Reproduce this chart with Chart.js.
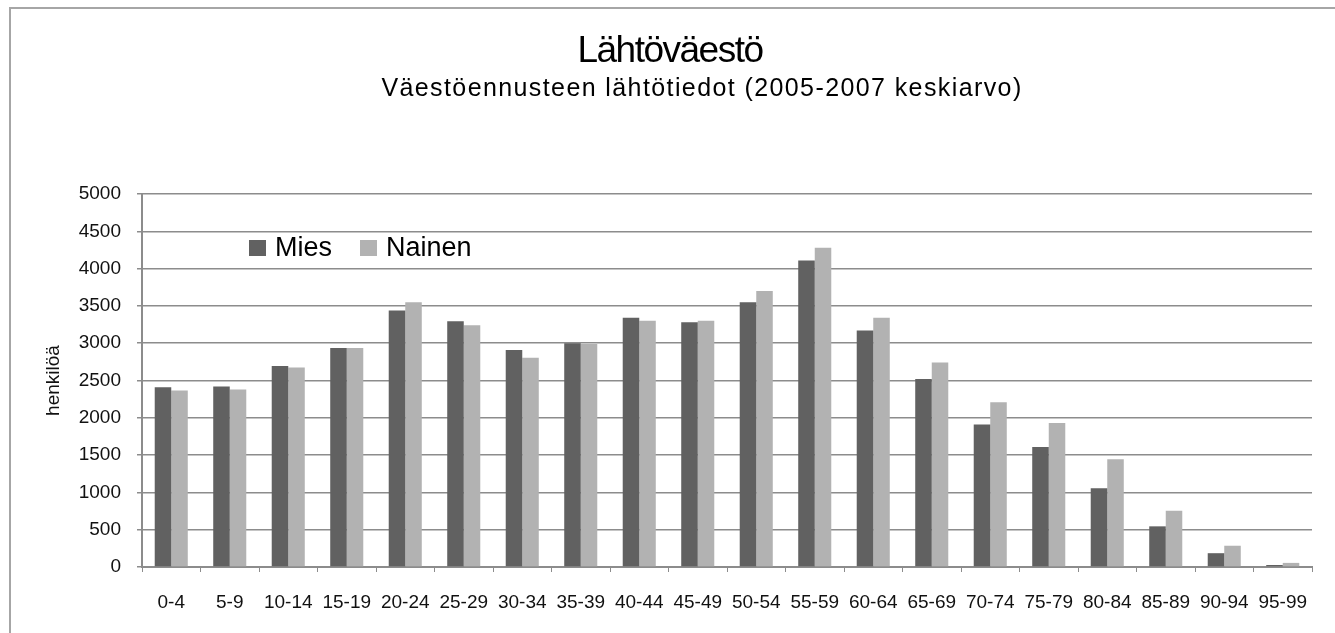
<!DOCTYPE html>
<html>
<head>
<meta charset="utf-8">
<script src="https://cdn.jsdelivr.net/npm/chart.js@4"></script>
<style>
  html, body { margin: 0; padding: 0; background: #fff; }
  #wrap { position: relative; width: 1335px; height: 633px; }
  #frame { position: absolute; left: 9px; top: 7px; right: 0; bottom: 0; border-top: 2px solid #a6a6a6; border-left: 2px solid #a6a6a6; }
  canvas { position: absolute; left: 0; top: 0; }
</style>
</head>
<body>
<div id="wrap">
  <div id="frame"></div>
  <canvas id="chart" width="1335" height="633"></canvas>
</div>
<script>
const ageGroups = ["0-4", "5-9", "10-14", "15-19", "20-24", "25-29", "30-34", "35-39", "40-44", "45-49",
  "50-54", "55-59", "60-64", "65-69", "70-74", "75-79", "80-84", "85-89", "90-94", "95-99"];
const mies = [2410, 2420, 2695, 2935, 3440, 3295, 2910, 3000, 3340, 3280,
  3550, 4110, 3170, 2520, 1910, 1610, 1055, 545, 185, 27];
const nainen = [2365, 2380, 2675, 2935, 3550, 3240, 2805, 2990, 3300, 3300,
  3700, 4280, 3340, 2740, 2210, 1930, 1445, 755, 285, 55];
const yMax = 5000;
const yStep = 500;

const fontName = "'Liberation Sans', Arial, sans-serif";

// otsikot ja selite piirretään itse
const titlePlugin = {
  id: "titles",
  afterDraw(chart) {
    const ctx = chart.ctx;
    ctx.save();
    ctx.fillStyle = "#000";
    ctx.textAlign = "center";
    ctx.textBaseline = "alphabetic";
    ctx.font = "37px " + fontName;
    ctx.letterSpacing = "-1.5px";
    ctx.fillText("Lähtöväestö", 670, 62);
    ctx.font = "25px " + fontName;
    ctx.letterSpacing = "1.4px";
    ctx.fillText("Väestöennusteen lähtötiedot (2005-2007 keskiarvo)", 702, 96);
    ctx.letterSpacing = "0px";

    // selite kaavioalueen sisällä
    ctx.textAlign = "left";
    ctx.textBaseline = "middle";
    ctx.font = "27px " + fontName;
    let x = 249;
    const y = 248;
    chart.data.datasets.forEach(ds => {
      ctx.fillStyle = ds.backgroundColor;
      ctx.fillRect(x, y - 8, 17, 16);
      ctx.fillStyle = "#000";
      ctx.fillText(ds.label, x + 26, y + 1);
      x += 26 + ctx.measureText(ds.label).width + 28;
    });
    ctx.restore();
  }
};

new Chart(document.getElementById("chart"), {
  type: "bar",
  data: {
    labels: ageGroups,
    datasets: [
      { label: "Mies", data: mies, backgroundColor: "#616161" },
      { label: "Nainen", data: nainen, backgroundColor: "#b2b2b2" }
    ]
  },
  options: {
    responsive: false,
    animation: false,
    layout: { padding: { top: 194, right: 23, bottom: 0, left: 0 } },
    datasets: { bar: { categoryPercentage: 0.565, barPercentage: 1.0 } },
    plugins: {
      legend: { display: false },
      tooltip: { enabled: false }
    },
    scales: {
      x: {
        grid: { drawOnChartArea: false, drawTicks: true, tickLength: 5, color: "#8c8c8c", offset: true },
        border: { color: "#8c8c8c", width: 2 },
        ticks: { color: "#111", font: { family: fontName, size: 19 }, padding: 19, maxRotation: 0, autoSkip: false },
        afterFit(scale) { scale.height = 66; }
      },
      y: {
        min: 0,
        max: yMax,
        ticks: {
          stepSize: yStep, color: "#111", font: { family: fontName, size: 19 }, padding: 16,
          callback: value => String(value)
        },
        grid: { color: "#8c8c8c", lineWidth: 1.5, tickLength: 5 },
        border: { color: "#8c8c8c", width: 2 },
        title: { display: true, text: "henkilöä", color: "#111", font: { family: fontName, size: 19 }, padding: { top: 42, bottom: 0 } },
        afterFit(scale) { scale.width = 142; }
      }
    }
  },
  plugins: [titlePlugin]
});
</script>
</body>
</html>
